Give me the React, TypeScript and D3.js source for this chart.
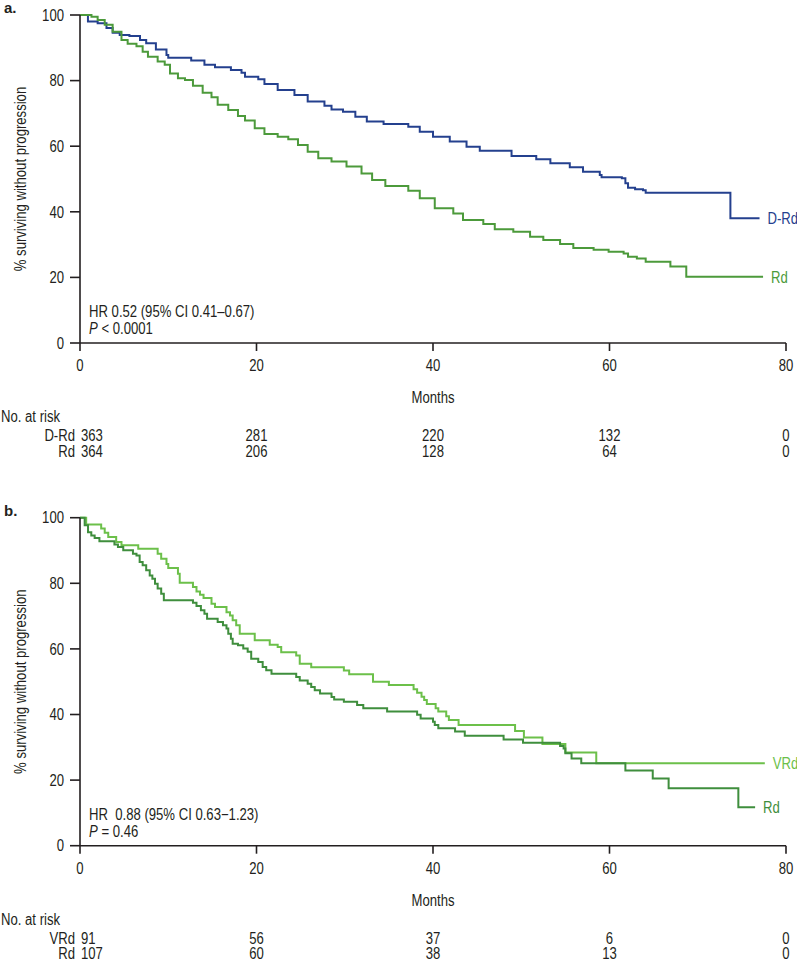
import React from "react";
import * as d3 from "d3";

type Pt = [number, number];

const MONTH_TICKS = [0, 20, 40, 60, 80];
const SURV_TICKS = [0, 20, 40, 60, 80, 100];

// Panel a: D-Rd vs Rd (month, % surviving without progression)
const DRD_A: Pt[] = [
  [0, 100], [0.9, 98], [2.0, 97.5], [3.0, 96], [3.7, 94.6], [4.5, 93.9], [5.6, 93.6], [6.8, 92.4],
  [7.5, 91.4], [8.6, 89.5], [9.8, 87.8], [10.0, 87.0], [12.6, 86.1], [14.1, 84.8], [15.3, 84.1],
  [17.1, 83.2], [18.3, 82.4], [18.7, 81.2], [20.2, 80.4], [20.9, 79], [22.4, 77.1], [24.3, 75.6],
  [25.8, 73.6], [27.7, 72.3], [28.5, 71.2], [29.8, 70.5], [31.2, 69], [32.5, 67.5], [34.4, 66.8],
  [37.2, 65.9], [38.5, 64.4], [40.0, 62.9], [41.9, 61.4], [43.8, 59.8], [45.3, 58.6], [48.9, 57],
  [51.7, 56], [53.3, 54.8], [55.5, 53.6], [57.0, 52.2], [58.9, 51.2], [59.1, 50.5], [61.4, 50.2],
  [61.8, 48.7], [62.1, 47.3], [62.9, 46.9], [63.8, 46.6], [64.1, 45.8], [73.7, 38.0], [77.0, 38.0],
];
const RD_A: Pt[] = [
  [0, 100], [1.3, 99.5], [2.0, 98.5], [2.8, 97], [3.7, 94.9], [4.7, 92.4], [5.4, 91.2], [6.4, 90.5],
  [7.1, 88.8], [7.7, 87.3], [8.8, 85.8], [9.6, 84.8], [10.2, 82.2], [11.1, 80.7], [11.9, 80.2],
  [12.8, 78.4], [13.9, 76.3], [14.9, 74.9], [15.6, 72.6], [16.8, 71], [17.9, 69.2], [18.7, 67.8],
  [19.8, 65.5], [20.9, 63.7], [22.4, 62.9], [23.6, 62.1], [24.7, 60.4], [25.8, 58.3], [27.0, 56.3],
  [28.5, 55.3], [30.2, 53.8], [31.9, 51.7], [33.1, 49.7], [34.6, 47.9], [37.2, 46.4], [38.5, 44.1],
  [40.2, 41.1], [42.3, 39.5], [43.4, 37.5], [45.7, 36.3], [47.0, 34.7], [49.1, 33.9], [51.0, 32.4],
  [52.5, 31.4], [54.4, 30.2], [55.9, 29.0], [58.2, 28.4], [59.9, 27.8], [61.6, 27.3], [62.1, 26.3],
  [63.1, 25.8], [64.1, 24.8], [66.9, 23.3], [68.7, 20.2], [77.4, 20.2],
];

// Panel b: VRd vs Rd
const VRD_B: Pt[] = [
  [0, 100], [0.7, 97.9], [2.4, 96.7], [2.8, 95.4], [3.2, 94.1], [4.1, 92.6], [4.7, 91.6], [6.6, 90.5],
  [8.8, 89.0], [9.2, 87.5], [9.8, 85.9], [10.0, 84.7], [11.1, 82.9], [11.3, 80.2], [12.8, 78.9],
  [13.2, 77.5], [13.6, 76.5], [14.0, 75.5], [14.9, 73.8], [15.3, 72.8], [16.6, 71.2], [17.0, 70.2],
  [17.3, 68.7], [17.7, 67.2], [18.1, 64.6], [19.8, 62.6], [21.5, 61.3], [22.4, 60.6], [22.8, 59.0],
  [24.5, 58.0], [24.9, 55.5], [26.2, 54.4], [29.9, 53.4], [30.5, 52.3], [33.2, 50.0], [35.0, 49.0],
  [37.8, 47.7], [38.2, 46.6], [38.7, 45.4], [39.0, 44.4], [39.3, 43.2], [40.3, 41.9], [40.6, 40.9],
  [41.5, 39.5], [41.8, 38.3], [42.9, 36.8], [49.3, 35.0], [50.3, 33.0], [52.4, 31.0], [55.0, 28.4],
  [58.5, 25.1], [77.6, 25.1],
];
const RD_B: Pt[] = [
  [0, 100], [0.53, 97.7], [0.91, 95.6], [1.28, 94.6], [1.66, 93.8], [2.2, 92.8], [3.9, 91.8],
  [4.3, 91.1], [4.9, 90.1], [6.0, 89.0], [6.4, 88.5], [6.76, 86.5], [7.1, 85.5], [7.5, 84.0],
  [7.9, 82.4], [8.2, 81.4], [8.5, 79.9], [8.8, 78.4], [9.2, 76.8], [9.5, 74.8], [12.8, 74.1],
  [13.2, 73.1], [13.7, 71.8], [14.1, 70.7], [14.4, 69.2], [15.6, 68.2], [16.2, 67.2], [16.6, 66.2],
  [16.8, 64.6], [17.1, 63.1], [17.3, 61.6], [17.9, 61.1], [18.5, 60.1], [19.0, 59.1], [19.4, 57.0],
  [20.2, 56.0], [20.7, 54.5], [21.1, 53.5], [21.7, 52.4], [24.5, 51.4], [24.9, 50.4], [25.8, 49.4],
  [26.2, 48.4], [26.6, 47.4], [27.2, 46.4], [28.5, 45.3], [28.8, 44.6], [29.9, 43.9], [31.4, 42.9],
  [32.1, 41.9], [34.8, 40.9], [38.2, 39.9], [38.6, 38.8], [40.0, 37.8], [40.2, 36.8], [40.6, 35.8],
  [42.5, 34.8], [43.6, 33.5], [48.0, 32.4], [50.2, 31.4], [54.4, 30.4], [54.8, 29.6], [55.0, 28.2],
  [55.7, 26.6], [56.8, 25.1], [61.8, 22.9], [64.9, 20.5], [66.7, 17.5], [74.6, 11.7], [76.5, 11.7],
];

const RISK_A_NAMES = ["D-Rd", "Rd"];
const RISK_A_DRD = [363, 281, 220, 132, 0];
const RISK_A_RD = [364, 206, 128, 64, 0];
const RISK_B_NAMES = ["VRd", "Rd"];
const RISK_B_VRD = [91, 56, 37, 6, 0];
const RISK_B_RD = [107, 60, 38, 13, 0];

const INK = "#231f20";
const FONT = "'Liberation Sans', Arial, Helvetica, sans-serif";
const SX = 0.82; // horizontal condensing to mimic a narrow face

const X0 = 80;
const X1 = 786;

interface TProps {
  x: number;
  y: number;
  anchor?: "start" | "middle" | "end";
  size?: number;
  fill?: string;
  rotate?: number;
  dy?: string;
  children: React.ReactNode;
}

function T({ x, y, anchor = "start", size = 16, fill = INK, rotate, dy, children }: TProps) {
  const rot = rotate ? ` rotate(${rotate})` : "";
  return (
    <text
      transform={`translate(${x},${y})${rot} scale(${SX},1)`}
      textAnchor={anchor}
      fontSize={size}
      fill={fill}
      dy={dy}
      fontFamily={FONT}
      style={{ whiteSpace: "pre" }}
    >
      {children}
    </text>
  );
}

interface Series {
  name: string;
  data: Pt[];
  color: string;
}

interface PanelProps {
  top: number;
  letter: string;
  series: Series[];
  hrText: string;
  pText: string;
  riskNames: string[];
  risk: number[][];
}

function Panel({ top, letter, series, hrText, pText, riskNames, risk }: PanelProps) {
  const bottom = top + 328;
  const x = d3.scaleLinear().domain([0, 80]).range([X0, X1]);
  const y = d3.scaleLinear().domain([0, 100]).range([bottom, top]);
  const line = d3
    .line<Pt>()
    .x((d) => x(d[0]))
    .y((d) => y(d[1]))
    .curve(d3.curveStepAfter);

  return (
    <g>
      <text x={4} y={top - 2} fontSize={15} fontWeight="bold" fontFamily={FONT} fill={INK}>
        {letter}
      </text>
      <T x={26} y={(top + bottom) / 2} anchor="middle" rotate={-90}>
        % surviving without progression
      </T>
      {series.map((s) => (
        <path key={s.name + s.color} d={line(s.data) || ""} fill="none" stroke={s.color} strokeWidth={2} />
      ))}
      {series.map((s) => {
        const last = s.data[s.data.length - 1];
        return (
          <T key={"lbl" + s.name} x={x(last[0]) + 8} y={y(last[1])} dy="0.36em" fill={s.color}>
            {s.name}
          </T>
        );
      })}
      <line x1={X0} x2={X0} y1={top} y2={bottom} stroke={INK} strokeWidth={1.6} />
      <line x1={X0} x2={X1} y1={bottom} y2={bottom} stroke={INK} strokeWidth={1.6} />
      {SURV_TICKS.map((t) => (
        <g key={"yt" + t}>
          <line x1={X0 - 10} x2={X0} y1={y(t)} y2={y(t)} stroke={INK} strokeWidth={1.6} />
          <T x={X0 - 16} y={y(t)} dy="0.36em" anchor="end">
            {t}
          </T>
        </g>
      ))}
      {MONTH_TICKS.map((t) => (
        <g key={"xt" + t}>
          <line x1={x(t)} x2={x(t)} y1={bottom} y2={bottom + 8} stroke={INK} strokeWidth={1.6} />
          <T x={x(t)} y={bottom + 28} anchor="middle">
            {t}
          </T>
        </g>
      ))}
      <T x={x(40)} y={bottom + 60} anchor="middle">
        Months
      </T>
      <T x={89} y={bottom - 26}>
        {hrText}
      </T>
      <T x={89} y={bottom - 9}>
        <tspan fontStyle="italic">P</tspan>
        {pText}
      </T>
      <T x={1} y={bottom + 79}>
        No. at risk
      </T>
      {risk.map((row, i) => (
        <g key={"risk" + i}>
          <T x={75} y={bottom + 98 + i * 15.5} anchor="end">
            {riskNames[i]}
          </T>
          {row.map((v, j) => (
            <T
              key={j}
              x={j === 0 ? X0 + 1 : x(MONTH_TICKS[j])}
              y={bottom + 98 + i * 15.5}
              anchor={j === 0 ? "start" : "middle"}
            >
              {v}
            </T>
          ))}
        </g>
      ))}
    </g>
  );
}

export default function App() {
  return (
    <svg width={797} height={962} style={{ position: "absolute", left: 0, top: 0, background: "#fff" }}>
      <rect width={797} height={962} fill="#fff" />
      <Panel
        top={15}
        letter="a."
        series={[
          { name: "D-Rd", data: DRD_A, color: "#24408e" },
          { name: "Rd", data: RD_A, color: "#4c9a3b" },
        ]}
        hrText="HR 0.52 (95% CI 0.41–0.67)"
        pText=" < 0.0001"
        riskNames={RISK_A_NAMES}
        risk={[RISK_A_DRD, RISK_A_RD]}
      />
      <Panel
        top={517.7}
        letter="b."
        series={[
          { name: "VRd", data: VRD_B, color: "#6cc04a" },
          { name: "Rd", data: RD_B, color: "#3f8e3d" },
        ]}
        hrText="HR  0.88 (95% CI 0.63−1.23)"
        pText=" = 0.46"
        riskNames={RISK_B_NAMES}
        risk={[RISK_B_VRD, RISK_B_RD]}
      />
    </svg>
  );
}
